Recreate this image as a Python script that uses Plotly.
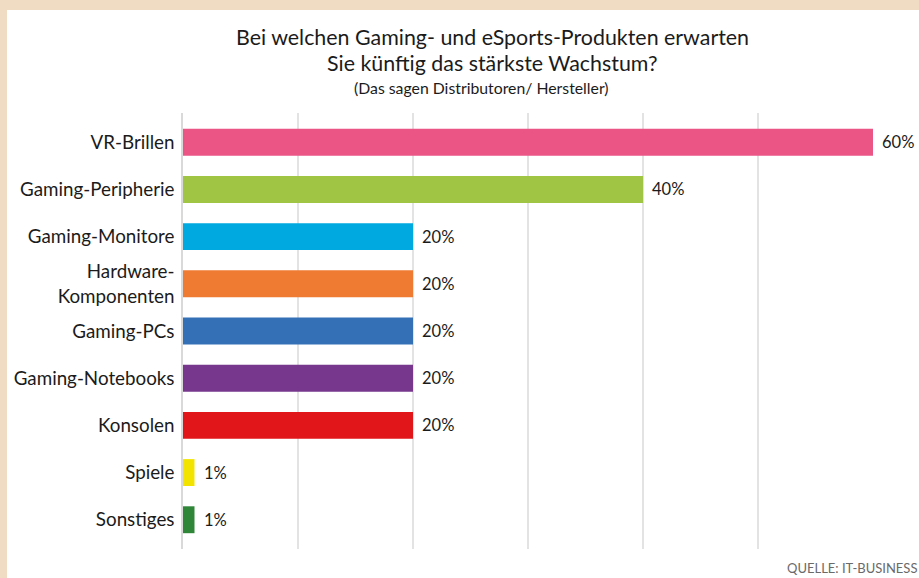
import plotly.graph_objects as go

# Survey data: expected growth by product group (share of distributors/manufacturers)
categories = [
    "VR-Brillen",
    "Gaming-Peripherie",
    "Gaming-Monitore",
    "Hardware-<br>Komponenten",
    "Gaming-PCs",
    "Gaming-Notebooks",
    "Konsolen",
    "Spiele",
    "Sonstiges",
]
values = [60, 40, 20, 20, 20, 20, 20, 1, 1]
bar_colors = [
    "#EA5586", "#A0C544", "#00A9E0", "#EF7B33", "#3470B6",
    "#76378C", "#E1161B", "#F2E400", "#2F8538",
]
title_lines = [
    "Bei welchen Gaming- und eSports-Produkten erwarten",
    "Sie künftig das stärkste Wachstum?",
]
subtitle = "(Das sagen Distributoren/ Hersteller)"
source_note = "QUELLE: IT-BUSINESS"

W, H = 919, 578
ML, MR, MT, MB = 183, 46, 113, 29
PW, PH = W - ML - MR, H - MT - MB

def px_x(p):
    return (p - ML) / PW

def px_y(p):
    return (H - MB - p) / PH

FONT = "Lato, 'Open Sans', sans-serif"
TXT = "#1b1b1b"

fig = go.Figure()
fig.add_trace(go.Bar(
    y=list(range(len(categories))),
    x=values,
    orientation="h",
    marker=dict(color=bar_colors, line=dict(width=0)),
    width=0.57,
    hoverinfo="skip",
))

annotations = []
# value labels next to each bar
for i, v in enumerate(values):
    annotations.append(dict(
        x=v, y=i, xref="x", yref="y", text=f"{v}%", showarrow=False,
        xanchor="left", yanchor="middle", xshift=7,
        font=dict(family=FONT, size=16.5, color=TXT),
    ))
# title block
annotations.append(dict(
    x=px_x(492), y=px_y(37), xref="paper", yref="paper",
    text=title_lines[0], showarrow=False, xanchor="center", yanchor="middle",
    font=dict(family=FONT, size=21.4, color=TXT),
))
annotations.append(dict(
    x=px_x(492), y=px_y(63), xref="paper", yref="paper",
    text=title_lines[1], showarrow=False, xanchor="center", yanchor="middle",
    font=dict(family=FONT, size=21.4, color=TXT),
))
annotations.append(dict(
    x=px_x(481), y=px_y(87), xref="paper", yref="paper",
    text=subtitle, showarrow=False, xanchor="center", yanchor="middle",
    font=dict(family=FONT, size=15.8, color=TXT),
))
annotations.append(dict(
    x=px_x(918), y=px_y(577), xref="paper", yref="paper",
    text=source_note, showarrow=False, xanchor="right", yanchor="bottom",
    borderpad=0,
    font=dict(family=FONT, size=13, color="#6a6a6a"),
))

fig.update_layout(
    width=W, height=H,
    margin=dict(l=ML, r=MR, t=MT, b=MB, pad=0),
    paper_bgcolor="#F0DCC2",
    plot_bgcolor="rgba(0,0,0,0)",
    showlegend=False,
    annotations=annotations,
    shapes=[dict(
        type="rect", xref="paper", yref="paper", layer="below",
        x0=px_x(7), x1=px_x(W + 5), y0=px_y(H + 5), y1=px_y(10),
        fillcolor="white", line=dict(width=0),
    )],
    xaxis=dict(
        range=[0, 60], dtick=10, showticklabels=False, zeroline=False,
        showgrid=True, gridcolor="#E3E3E3", gridwidth=1.5,
        showline=False, fixedrange=True,
    ),
    yaxis=dict(
        range=[8.62, -0.62],
        tickmode="array",
        tickvals=list(range(len(categories))),
        ticktext=categories,
        ticks="", showgrid=False, zeroline=False,
        showline=True, linecolor="#D9D9D9", linewidth=1.5,
        tickfont=dict(family=FONT, size=18.8, color=TXT),
        ticklabelstandoff=3,
        fixedrange=True,
    ),
)

fig.write_html("out.html", config={"displayModeBar": False})
